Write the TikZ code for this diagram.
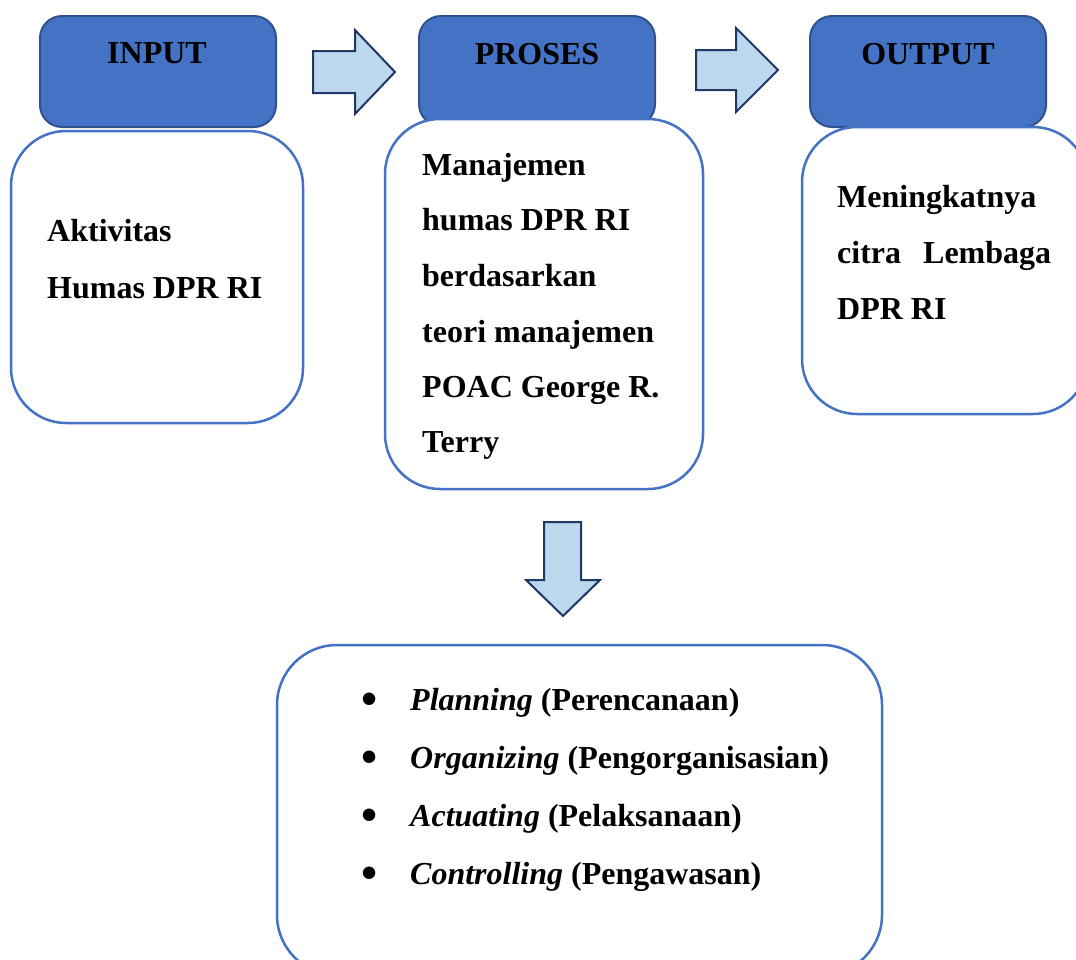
\documentclass[tikz,border=0pt]{standalone}
\usepackage{fontspec}
\setmainfont{Liberation Serif}
\definecolor{hdrfill}{HTML}{4472C4}
\definecolor{hdrline}{HTML}{2F528F}
\definecolor{bodyline}{HTML}{4472C4}
\definecolor{arrfill}{HTML}{BDD7EE}
\definecolor{arrline}{HTML}{203864}
\begin{document}
\begin{tikzpicture}[x=1pt,y=-1pt,
  hdr/.style={rectangle,fill=hdrfill,draw=hdrline,line width=2pt,rounded corners=22pt,inner sep=0pt,outer sep=0pt},
  body/.style={rectangle,fill=white,draw=bodyline,line width=2.5pt,rounded corners=55pt,inner sep=0pt,outer sep=0pt},
  blk/.style={fill=arrfill,draw=arrline,line width=2pt,line join=miter},
  txt/.style={anchor=base west,inner sep=0pt,font=\fontsize{32}{38}\selectfont\bfseries},
  htxt/.style={anchor=base,inner sep=0pt,font=\fontsize{32}{38}\selectfont\bfseries},
  bul/.style={anchor=base,inner sep=0pt,font=\fontsize{46}{50}\selectfont\bfseries}]
\useasboundingbox (0,0) rectangle (1076,959);
\clip (0,0) rectangle (1076,959);

% headers
\node[hdr,minimum width=236pt,minimum height=111pt] (inhdr) at (158,71.5) {};
\node[hdr,minimum width=236pt,minimum height=110pt] (prhdr) at (537,71) {};
\node[hdr,minimum width=236pt,minimum height=111pt] (outhdr) at (928,71.5) {};
\node[htxt] (intxt) at (157,63) {INPUT};
\node[htxt] (prtxt) at (537,64) {PROSES};
\node[htxt] (outtxt) at (928,64) {OUTPUT};

% bodies
\node[body,minimum width=292pt,minimum height=292pt] (inbody) at (157,277) {};
\node[body,minimum width=318pt,minimum height=370pt] (prbody) at (544,304) {};
\node[body,minimum width=286pt,minimum height=287pt] (outbody) at (945,270.5) {};
\node[body,rounded corners=60pt,minimum width=605pt,minimum height=330pt] (listbody) at (579.5,810) {};

% input text
\node[txt] (in1) at (47,241) {Aktivitas};
\node[txt] (in2) at (47,298) {Humas DPR RI};

% proses text
\node[txt] (p1) at (422,175) {Manajemen};
\node[txt] (p2) at (422,230) {humas DPR RI};
\node[txt] (p3) at (422,286) {berdasarkan};
\node[txt] (p4) at (422,342) {teori manajemen};
\node[txt] (p5) at (422,397) {POAC George R.};
\node[txt] (p6) at (422,452) {Terry};

% output text
\node[txt] (o1) at (837,207) {Meningkatnya};
\node[txt] (o2) at (837,263) {\makebox[214pt][s]{citra\hfill Lembaga}};
\node[txt] (o3) at (837,319) {DPR RI};

% list
\node[bul] (b1) at (370,714) {•};
\node[bul] (b2) at (370,772) {•};
\node[bul] (b3) at (370,830) {•};
\node[bul] (b4) at (370,888) {•};
\node[txt] (l1) at (410,710) {\textit{Planning} (Perencanaan)};
\node[txt] (l2) at (410,768) {\textit{Organizing} (Pengorganisasian)};
\node[txt] (l3) at (410,826) {\textit{Actuating} (Pelaksanaan)};
\node[txt] (l4) at (410,884) {\textit{Controlling} (Pengawasan)};

% block arrows
\draw[blk] (313,51) -- (355,51) -- (355,30) -- (395,72) -- (355,114) -- (355,93) -- (313,93) -- cycle;
\draw[blk] (696,50) -- (736,50) -- (736,28) -- (778,70) -- (736,112) -- (736,90) -- (696,90) -- cycle;
\draw[blk] (544,522) -- (581,522) -- (581,580) -- (600,580) -- (563,616) -- (526,580) -- (544,580) -- cycle;
\end{tikzpicture}
\end{document}
